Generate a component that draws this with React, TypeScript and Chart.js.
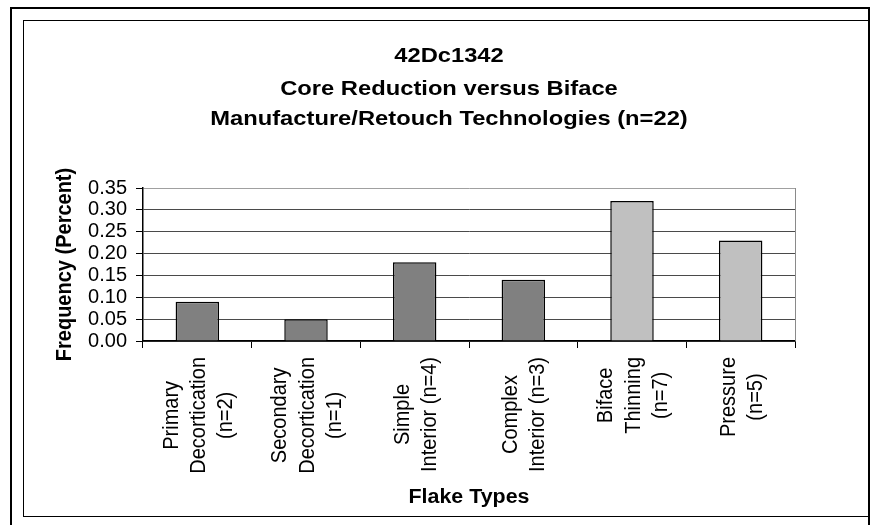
import React, { useEffect, useRef } from "react";
import { Chart, registerables } from "chart.js";

Chart.register(...registerables);

// Flake type categories (each entry is split over several label lines)
const flakeTypes: string[][] = [
  ["Primary", "Decortication", "(n=2)"],
  ["Secondary", "Decortication", "(n=1)"],
  ["Simple", "Interior (n=4)"],
  ["Complex", "Interior (n=3)"],
  ["Biface", "Thinning", "(n=7)"],
  ["Pressure", "(n=5)"],
];

// Relative frequency of each flake type
const frequencies: number[] = [0.09, 0.05, 0.18, 0.14, 0.32, 0.23];

// Core reduction types are dark grey, biface manufacture/retouch types light grey
const barColors: string[] = ["#808080", "#808080", "#808080", "#808080", "#C0C0C0", "#C0C0C0"];

const titleLines: string[] = [
  "42Dc1342",
  "Core Reduction versus Biface",
  "Manufacture/Retouch Technologies (n=22)",
];
const yAxisTitle = "Frequency (Percent)";
const xAxisTitle = "Flake Types";

const yMin = 0;
const yMax = 0.35;
const yStep = 0.05;

const FONT = "'Liberation Sans', Arial, sans-serif";

const W = 873;
const H = 525;

// Glyphs in this chart are drawn slightly wide
const WIDEN = 1.13;

// Draws chart titles, axis titles, rotated category labels and plot border
const textPlugin = {
  id: "flakeText",
  beforeDatasetsDraw(chart: any) {
    const { ctx, chartArea } = chart;
    ctx.save();
    ctx.strokeStyle = "#8a8a8a";
    ctx.lineWidth = 1;
    ctx.beginPath();
    const rx = Math.round(chartArea.right) + 0.5;
    ctx.moveTo(rx, Math.round(chartArea.top));
    ctx.lineTo(rx, Math.round(chartArea.bottom));
    ctx.stroke();
    ctx.restore();
  },
  afterDraw(chart: any) {
    const { ctx, chartArea } = chart;
    ctx.save();
    ctx.fillStyle = "#000";

    // Main title
    ctx.font = `bold 21px ${FONT}`;
    ctx.textAlign = "center";
    ctx.textBaseline = "alphabetic";
    const baselines = [61.5, 95, 125];
    titleLines.forEach((line, i) => {
      ctx.save();
      ctx.translate(449, baselines[i]);
      ctx.scale(WIDEN, 1);
      ctx.fillText(line, 0, 0);
      ctx.restore();
    });

    // Y axis title
    ctx.save();
    ctx.font = `bold 20px ${FONT}`;
    ctx.translate(65, (chartArea.top + chartArea.bottom) / 2);
    ctx.rotate(-Math.PI / 2);
    ctx.scale(1, WIDEN);
    ctx.textAlign = "center";
    ctx.textBaseline = "middle";
    ctx.fillText(yAxisTitle, 0, 0);
    ctx.restore();

    // X axis title
    ctx.save();
    ctx.font = `bold 20px ${FONT}`;
    ctx.translate((chartArea.left + chartArea.right) / 2, 503);
    ctx.scale(1.07, 1);
    ctx.textAlign = "center";
    ctx.textBaseline = "alphabetic";
    ctx.fillText(xAxisTitle, 0, 0);
    ctx.restore();

    // Category labels, rotated and centred line by line
    const xScale = chart.scales.x;
    ctx.font = `20px ${FONT}`;
    const lineGap = 27.3;
    const topAnchor = 357;
    flakeTypes.forEach((lines, i) => {
      const cx = xScale.getPixelForValue(i);
      const maxW = Math.max(...lines.map((l) => ctx.measureText(l).width));
      const cy = topAnchor + maxW / 2;
      lines.forEach((line, j) => {
        const lx = cx + (j - (lines.length - 1) / 2) * lineGap + 7.5;
        ctx.save();
        ctx.translate(lx, cy);
        ctx.rotate(-Math.PI / 2);
        ctx.scale(1, WIDEN);
        ctx.textAlign = "center";
        ctx.textBaseline = "alphabetic";
        ctx.fillText(line, 0, 0);
        ctx.restore();
      });
    });
    ctx.restore();
  },
};

export default function App() {
  const canvasRef = useRef<HTMLCanvasElement | null>(null);

  useEffect(() => {
    const canvas = canvasRef.current;
    if (!canvas) return;
    const chart = new Chart(canvas, {
      type: "bar",
      data: {
        labels: flakeTypes.map((l) => l.join(" ")),
        datasets: [
          {
            data: frequencies,
            backgroundColor: barColors,
            borderColor: "#000",
            borderWidth: 1.5,
            barPercentage: 0.4,
            categoryPercentage: 1,
          },
        ],
      },
      options: {
        responsive: false,
        animation: false,
        devicePixelRatio: 1,
        layout: { padding: { top: 188, right: 78, left: 0, bottom: 0 } },
        plugins: {
          legend: { display: false },
          title: { display: false },
          tooltip: { enabled: false },
        },
        scales: {
          x: {
            type: "category",
            offset: true,
            ticks: { display: false },
            grid: {
              offset: true,
              drawOnChartArea: false,
              drawTicks: true,
              tickLength: 7,
              tickColor: "#000",
              tickWidth: 1,
            },
            border: { display: true, color: "#000", width: 1.5 },
            afterFit: (scale: any) => {
              scale.height = H - 341;
            },
          },
          y: {
            min: yMin,
            max: yMax,
            ticks: {
              stepSize: yStep,
              autoSkip: false,
              color: "#000",
              padding: 9,
              font: { family: FONT, size: 20 },
              callback: (v: any) => Number(v).toFixed(2),
            },
            grid: {
              color: (c: any) =>
                c.tick && Math.abs(c.tick.value - yMax) < 1e-6 ? "#a0a0a0" : "#4a4a4a",
              lineWidth: 1,
              drawTicks: true,
              tickLength: 7,
              tickColor: "#000",
            },
            border: { display: true, color: "#000", width: 1.5 },
            afterFit: (scale: any) => {
              scale.width = 143;
            },
          },
        },
      },
      plugins: [textPlugin],
    });
    return () => chart.destroy();
  }, []);

  return (
    <div
      style={{
        position: "absolute",
        left: 0,
        top: 0,
        width: W,
        height: H,
        background: "#fff",
        overflow: "hidden",
      }}
    >
      {/* outer frame */}
      <div
        style={{
          position: "absolute",
          left: 10,
          top: 7,
          width: 870 - 10,
          height: H,
          borderLeft: "2.5px solid #000",
          borderTop: "2px solid #000",
          borderRight: "2px solid #000",
          boxSizing: "border-box",
        }}
      />
      {/* inner frame */}
      <div
        style={{
          position: "absolute",
          left: 23,
          top: 20,
          width: 869 - 23,
          height: 517 - 20,
          border: "1px solid #000",
          boxSizing: "border-box",
        }}
      />
      <canvas
        ref={canvasRef}
        width={W}
        height={H}
        style={{ position: "absolute", left: 0, top: 0, width: W, height: H }}
      />
    </div>
  );
}
